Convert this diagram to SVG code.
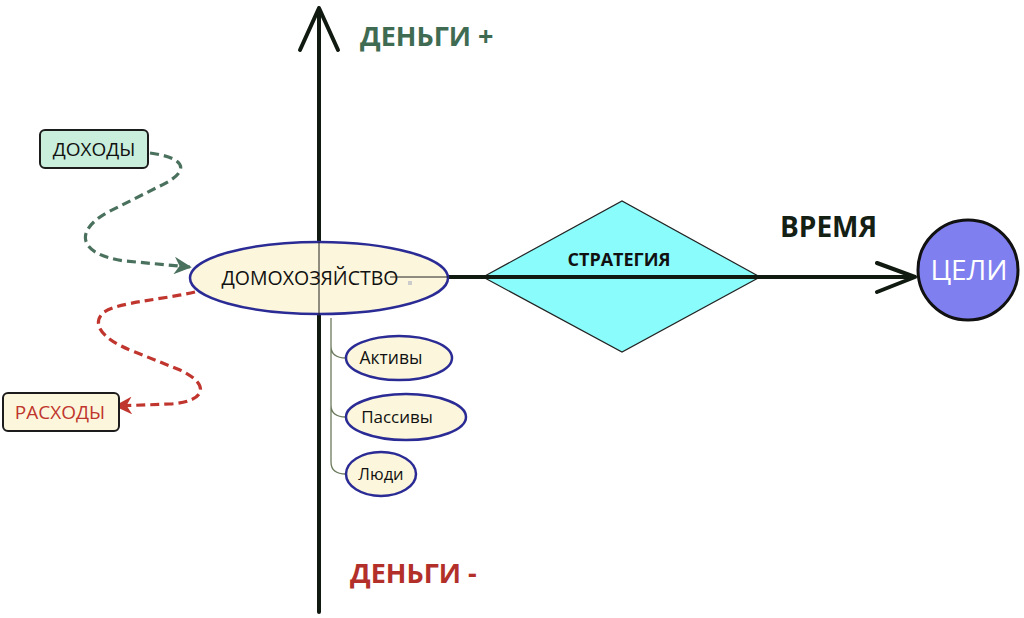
<svg xmlns="http://www.w3.org/2000/svg" width="1024" height="618" viewBox="0 0 1024 618">
<defs>
<style>
text{font-family:"Open Sans","Liberation Sans",sans-serif}
.axis{stroke:#111a11;stroke-width:4;fill:none;stroke-linecap:round;stroke-linejoin:round}
.thin{stroke:#222;stroke-width:1;fill:none}
.tree{stroke:#6b7a5c;stroke-width:1.3;fill:none}
.node{fill:#fcf7dc;stroke:#2b2b96;stroke-width:2.5}
.small{fill:#111}
.box{stroke:#1c1c1c;stroke-width:2}
.dash{fill:none;stroke-width:3.2;stroke-dasharray:9 5}
</style>
<marker id="ag" viewBox="0 0 10 10" refX="9" refY="5" markerWidth="5.5" markerHeight="5.5" orient="auto" markerUnits="strokeWidth">
<path d="M0,0 L10,5 L0,10 L3,5 Z" fill="#4a715d"/>
</marker>
<marker id="ar" viewBox="0 0 10 10" refX="9" refY="5" markerWidth="5.5" markerHeight="5.5" orient="auto" markerUnits="strokeWidth">
<path d="M0,0 L10,5 L0,10 L3,5 Z" fill="#c0352d"/>
</marker>
</defs>
<rect width="1024" height="618" fill="#ffffff"/>

<g id="connectors">
<path class="axis" d="M319,242 L319,8 M300,50 L319,8 L338,50"/>
<path class="axis" d="M319,315 L319,612"/>
<path class="axis" d="M448,277 L915,277 M877,263 L915,277 L877,292"/>
<path class="tree" d="M331,318 L331,462 Q331,474 346,474 M331,346 Q331,358 346,358 M331,405 Q331,417 346,417"/>
<path class="dash" stroke="#4a715d" marker-end="url(#ag)" d="M150,153 C188,158 190,172 160,186 L108,212 C72,232 80,255 125,261 L190,267"/>
<path class="dash" stroke="#c0352d" marker-end="url(#ar)" d="M195,292 C160,300 120,302 104,312 C92,322 98,338 135,352 L180,370 C212,385 205,402 170,404 L116,406"/>
</g>

<g id="money-plus"><text x="360" y="46" font-size="27" font-weight="bold" fill="#3f6b52">ДЕНЬГИ +</text></g>
<g id="money-minus"><text x="350" y="583" font-size="27" font-weight="bold" fill="#b3302a">ДЕНЬГИ -</text></g>
<g id="time"><text x="780" y="237" font-size="28" font-weight="bold" fill="#142014">ВРЕМЯ</text></g>

<g id="income">
<rect class="box" x="40" y="130" width="108" height="38" rx="5" fill="#c9eedb"/>
<text x="94" y="156" font-size="19" text-anchor="middle" fill="#111">ДОХОДЫ</text>
</g>
<g id="expenses">
<rect class="box" x="3" y="393" width="116" height="38" rx="5" fill="#fcf7dc"/>
<text x="60" y="419" font-size="19" text-anchor="middle" fill="#c0352d">РАСХОДЫ</text>
</g>

<g id="household">
<ellipse class="node" cx="319" cy="278" rx="129" ry="36" stroke-width="3"/>
<path class="thin" d="M319,242 L319,315"/>
<text x="310" y="285" font-size="19.5" text-anchor="middle" fill="#111">ДОМОХОЗЯЙСТВО</text>
<path class="thin" d="M390,277 L448,277"/>
<rect x="408" y="281" width="4" height="4" fill="#cccccc"/>
</g>

<g id="assets">
<ellipse class="node" cx="399" cy="358" rx="53" ry="22"/>
<text x="391" y="364" class="small" font-size="17.5" text-anchor="middle">Активы</text>
</g>
<g id="liabilities">
<ellipse class="node" cx="406" cy="417" rx="60" ry="23"/>
<text x="397" y="423" class="small" font-size="17" text-anchor="middle">Пассивы</text>
</g>
<g id="people">
<ellipse class="node" cx="381" cy="474" rx="35" ry="22"/>
<text x="381" y="480" class="small" font-size="16.5" text-anchor="middle">Люди</text>
</g>

<g id="strategy">
<polygon points="483,277 622,201 760,277 622,352" fill="#8afcfc" stroke="#222" stroke-width="1.2"/>
<path class="axis" d="M483,277 L760,277" stroke-width="3"/>
<text x="619" y="266" font-size="18" font-weight="bold" text-anchor="middle" fill="#111">СТРАТЕГИЯ</text>
</g>

<g id="goals">
<circle cx="968" cy="270" r="50" fill="#7f7ff0" stroke="#111" stroke-width="3"/>
<text x="969" y="280" font-size="28" text-anchor="middle" fill="#ffffff">ЦЕЛИ</text>
</g>
</svg>
